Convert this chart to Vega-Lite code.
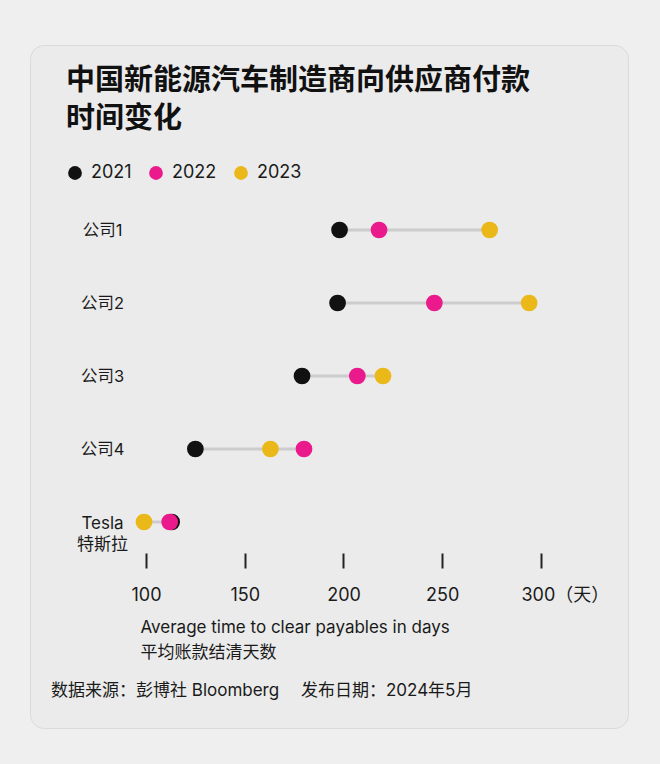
{
  "$schema": "https://vega.github.io/schema/vega-lite/v6.json",
  "width": 598,
  "height": 683,
  "autosize": "none",
  "padding": {"left": 30, "top": 45, "right": 32, "bottom": 36},
  "background": "#efefef",
  "config": {
    "font": "Inter, 'Noto Sans CJK SC', sans-serif",
    "view": {"fill": "#ebebeb", "stroke": "#dadada", "strokeWidth": 1, "cornerRadius": 14}
  },
  "title": {
    "text": "数据来源：彭博社 Bloomberg\u3000\u00a0发布日期：2024年5月",
    "orient": "bottom",
    "anchor": "start",
    "frame": "group",
    "offset": -45,
    "dx": 21,
    "fontSize": 17,
    "fontWeight": "normal",
    "color": "#1a1a1a",
    "limit": 0
  },
  "data": {
    "values": [
      {"company": "公司1", "year": "2021", "days": 198},
      {"company": "公司2", "year": "2021", "days": 197},
      {"company": "公司3", "year": "2021", "days": 179},
      {"company": "公司4", "year": "2021", "days": 125},
      {"company": "Tesla", "year": "2021", "days": 113},
      {"company": "公司1", "year": "2023", "days": 274},
      {"company": "公司2", "year": "2023", "days": 294},
      {"company": "公司3", "year": "2023", "days": 220},
      {"company": "公司4", "year": "2023", "days": 163},
      {"company": "Tesla", "year": "2023", "days": 99},
      {"company": "公司1", "year": "2022", "days": 218},
      {"company": "公司2", "year": "2022", "days": 246},
      {"company": "公司3", "year": "2022", "days": 207},
      {"company": "公司4", "year": "2022", "days": 180},
      {"company": "Tesla", "year": "2022", "days": 112}
    ]
  },
  "encoding": {
    "y": {
      "field": "company",
      "type": "nominal",
      "sort": ["公司1", "公司2", "公司3", "公司4", "Tesla"],
      "scale": {"type": "point", "padding": 0, "range": [185, 477]},
      "axis": {
        "title": null,
        "orient": "left",
        "offset": -80,
        "domain": false,
        "ticks": false,
        "grid": false,
        "labelPadding": 8,
        "labelAlign": "center",
        "labelBaseline": "middle",
        "labelFontSize": {"condition": {"test": "datum.value == 'Tesla'", "value": 17}, "value": 16.5},
        "labelColor": "#1a1a1a",
        "labelLineHeight": 21,
        "labelExpr": "datum.value == 'Tesla' ? ['Tesla', '特斯拉'] : datum.label",
        "labelOffset": {"condition": {"test": "datum.value == 'Tesla'", "value": 1}, "value": 0}
      }
    }
  },
  "layer": [
    {
      "mark": {"type": "rule", "color": "#cccccc", "strokeWidth": 3},
      "encoding": {
        "x": {"aggregate": "min", "field": "days", "type": "quantitative"},
        "x2": {"aggregate": "max", "field": "days"}
      }
    },
    {
      "mark": {"type": "circle", "size": 280, "opacity": 1},
      "encoding": {
        "x": {
          "field": "days",
          "type": "quantitative",
          "scale": {"domain": [41.27, 344.05], "nice": false, "zero": false},
          "axis": {
            "orient": "bottom",
            "offset": -175,
            "values": [100, 150, 200, 250, 300],
            "domain": false,
            "grid": false,
            "ticks": true,
            "tickSize": 15,
            "tickWidth": 2,
            "tickColor": "#222222",
            "labelPadding": 18,
            "labelFontSize": 18,
            "labelColor": "#1a1a1a",
            "labelExpr": "datum.value == 300 ? '300（天）' : datum.label",
            "labelAlign": {"condition": {"test": "datum.value == 300", "value": "left"}, "value": "center"},
            "labelOffset": {"condition": {"test": "datum.value == 300", "value": -20}, "value": 0},
            "title": ["Average time to clear payables in days", "平均账款结清天数"],
            "titleFontSize": 17,
            "titleFontWeight": "normal",
            "titleColor": "#1a1a1a",
            "titleAlign": "left",
            "titleBaseline": "top",
            "titleAnchor": "start",
            "titleX": 110,
            "titleY": 66,
            "titleLineHeight": 25,
            "titleLimit": 0
          }
        },
        "color": {
          "field": "year",
          "type": "nominal",
          "scale": {"domain": ["2021", "2022", "2023"], "range": ["#111111", "#ea1a8c", "#ebb819"]},
          "legend": {
            "orient": "none",
            "legendX": 36,
            "legendY": 22,
            "direction": "horizontal",
            "padding": 0,
            "title": ["中国新能源汽车制造商向供应商付款", "时间变化"],
            "titleFontSize": 29,
            "titleFontWeight": "bold",
            "titleColor": "#111111",
            "titleLineHeight": 38,
            "titleAnchor": "start",
            "titleBaseline": "top",
            "titlePadding": 30,
            "titleLimit": 0,
            "symbolType": "circle",
            "symbolSize": 190,
            "symbolStrokeWidth": 0,
            "symbolOpacity": 1,
            "labelFontSize": 18,
            "labelColor": "#1a1a1a",
            "labelOffset": 7,
            "columnPadding": 15
          }
        }
      }
    }
  ]
}
